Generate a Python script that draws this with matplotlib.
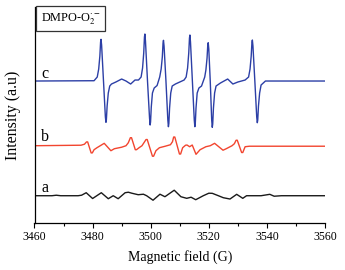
import matplotlib
matplotlib.use("Agg")
import matplotlib.pyplot as plt
from matplotlib.ticker import MultipleLocator
import numpy as np

plt.rcParams['font.family'] = ['Liberation Serif', 'DejaVu Serif']
plt.rcParams['mathtext.fontset'] = 'stix'

# Spectrum c (DMPO-O2 adduct, blue)
field_c = [3460, 3480.5,
           3481.6, 3482.1, 3482.5, 3482.75, 3482.9, 3483.1, 3483.75, 3484.4, 3484.6, 3484.75, 3485.0, 3485.4, 3485.9,
           3486.5, 3488.0, 3490.0, 3491.5, 3493.1, 3494.6, 3495.8,
           3496.7, 3497.2, 3497.6, 3497.85, 3498.0, 3498.2, 3498.9, 3499.6, 3499.8, 3499.95, 3500.2, 3500.6, 3501.2,
           3502.2,
           3503.1, 3503.6, 3504.0, 3504.25, 3504.4, 3504.6, 3505.25, 3505.9, 3506.1, 3506.25, 3506.5, 3506.9, 3507.4,
           3508.5, 3510.0, 3511.5,
           3512.2, 3512.7, 3513.1, 3513.35, 3513.5, 3513.7, 3514.35, 3515.0, 3515.2, 3515.35, 3515.6, 3516.0, 3516.6,
           3517.5,
           3518.6, 3519.0, 3519.4, 3519.65, 3519.8, 3520.0, 3520.5, 3521.0, 3521.2, 3521.35, 3521.6, 3522.0, 3522.5,
           3524.0, 3526.5, 3528.3, 3530.0, 3532.5,
           3533.7, 3534.2, 3534.6, 3534.85, 3535.0, 3535.2, 3535.85, 3536.5, 3536.7, 3536.85, 3537.1, 3537.5, 3538.0,
           3539.5, 3560]
sig_c = [0, 0.3,
         4, 12, 25, 39, 41.7, 36, 0, -36, -41.3, -38.5, -25, -12, -5,
         -3, -1, 2, 0, -3, 1, 1,
         4, 13, 28, 44, 47, 40, 0, -37, -44, -41, -26, -12, -7,
         -4.5,
         4, 12, 24, 38, 40.7, 35, 0, -39, -45.7, -42.5, -27, -12, -5,
         -3, -1, 1,
         4, 13, 28, 43, 46, 39, 0, -39, -45.7, -42.5, -27, -12, -7,
         -5,
         4, 11, 23, 36, 38.3, 32, 0, -39, -46.3, -43, -27, -12, -5,
         -2, 2, -3, -1, 1,
         4, 12, 25, 38.5, 41, 35, 0, -36, -41.7, -39, -25, -12, -4,
         0, 0]

# Spectrum b (red)
field_b = [3460, 3476.0, 3477.2, 3477.9, 3478.3, 3479.5, 3479.9, 3480.5, 3481.5, 3484.0, 3486.3, 3487.5,
           3490.0, 3491.5, 3492.3, 3493.0, 3493.4, 3494.7, 3495.1, 3496.0, 3497.0, 3498.4, 3498.8, 3500.6, 3501.0, 3501.8,
           3503.0, 3505.0, 3506.8, 3507.5, 3507.9, 3508.3, 3509.9, 3510.3, 3511.0, 3512.0, 3512.5, 3513.4,
           3514.3, 3515.6, 3517.0, 3519.0, 3520.5, 3522.0, 3524.9, 3526.0, 3528.0, 3528.8,
           3529.4, 3529.8, 3531.3, 3531.7, 3532.5, 3534.0, 3560]
sig_b = [0, 0.5, 1.5, 3.8, 3.8, -7.2, -7.2, -4, -2, 2.4, -5, -3,
         -1.5, 0, 3, 8, 8, -4, -4, -2, 0, 6.2, 6.2, -10.5, -10.5, -5,
         -2, -0.5, 1, 4, 8.7, 8.7, -8.3, -8.3, -2, 0.5, 0.7, -1,
         0.7, -8.6, -4, -1, 0, 2.4, -4.5, -3, 0, 2,
         5.5, 5.5, -6.8, -6.8, -1, -0.5, -0.5]

# Spectrum a (black)
field_a = [3460, 3466, 3467.5, 3469, 3475, 3476.2, 3477.8, 3480.0, 3483.0, 3485.4,
           3487.1, 3488.8, 3491.2, 3492.3, 3493.5, 3495.7, 3497.5, 3498.6, 3500.8, 3503.2,
           3504.9, 3508.1, 3510.4, 3512.4, 3513.9, 3515.5, 3518.1, 3520.0, 3521.2, 3523.3,
           3525.0, 3527.3, 3529.6, 3531.7, 3533.0, 3538, 3541, 3542.5, 3545, 3560]
sig_a = [0, 0, 0.5, 0, 0, 0.5, 3, -2.8, 3, -3,
         0, -3, 3, 3.5, 2.5, 1, 1.5, 0, -4.5, 1.5,
         -1, 5.5, -1, -2.6, -1.5, -4, 0, 2.5, 2.4, 0,
         -2, -3.3, 1.4, -2.6, 0, 0, 1.4, -0.5, 0, 0]

offsets = {'a': 27.3, 'b': 77.3, 'c': 142}
labels = ['a', 'b', 'c']
xticks = [3460, 3480, 3500, 3520, 3540, 3560]

fig = plt.figure(figsize=(3.45, 2.70), dpi=100)
ax = fig.add_axes([0.1, 0.174, 0.842, 0.8])

ax.plot(field_a, np.array(sig_a) + offsets['a'], color='#1a1a1a', lw=1.0)
ax.plot(field_b, np.array(sig_b) + offsets['b'], color='#f2452f', lw=1.0)
ax.plot(field_c, np.array(sig_c) + offsets['c'], color='#2c3fa6', lw=1.0)

ax.text(3463.5, offsets['c'] + 7, 'c', fontsize=11.5, ha='center', va='center')
ax.text(3463.6, offsets['b'] + 9, 'b', fontsize=11.5, ha='center', va='center')
ax.text(3463.6, offsets['a'] + 8, 'a', fontsize=11.5, ha='center', va='center')

fig.text(41 / 345, 1 - 11 / 270, r'DMPO-O$_2^{\cdot-}$', fontsize=8.8,
         ha='left', va='top',
         bbox=dict(boxstyle='square,pad=0.38', fc='white', ec='#333333', lw=0.9))

ax.set_xlim(3460, 3560)
ax.set_ylim(0, 216)
ax.set_xticks(xticks)
ax.xaxis.set_minor_locator(MultipleLocator(10))
ax.tick_params(axis='x', which='major', direction='out', length=3.5, width=0.8,
               labelsize=8.5, pad=2)
ax.tick_params(axis='x', which='minor', direction='out', length=2, width=0.8)
ax.set_yticks([])
ax.spines['top'].set_visible(False)
ax.spines['right'].set_visible(False)
ax.spines['left'].set_linewidth(0.9)
ax.spines['bottom'].set_linewidth(0.9)
ax.set_xlabel('Magnetic field (G)', fontsize=10, labelpad=5)
ax.set_ylabel('Intensity (a.u)', fontsize=11.5, labelpad=10)

fig.savefig('out.png', dpi=100)
